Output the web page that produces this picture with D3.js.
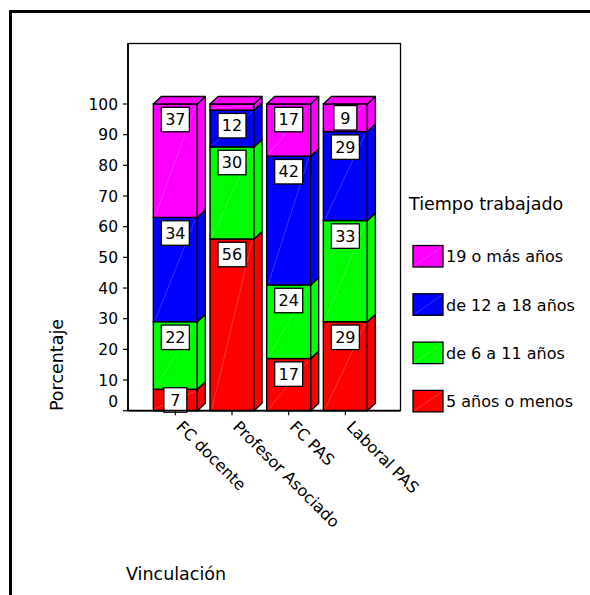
<!DOCTYPE html>
<html>
<head>
<meta charset="utf-8">
<script src="https://cdn.jsdelivr.net/npm/d3@7"></script>
<style>
  html, body { margin: 0; padding: 0; background: #fff; }
  svg { display: block; }
  text { font-family: "DejaVu Sans", sans-serif; fill: #000; }
</style>
</head>
<body>
<svg id="chart" width="590" height="595"></svg>
<script>
// Categories (Vinculación) and stacked series (Tiempo trabajado, %)
const categories = ["FC docente", "Profesor Asociado", "FC PAS", "Laboral PAS"];
const seriesNames = ["5 años o menos", "de 6 a 11 años", "de 12 a 18 años", "19 o más años"];
const seriesColors = ["#ff0000", "#00ff00", "#0000ff", "#ff00ff"];
const cincoOMenos = [7, 56, 17, 29];
const seisAOnce = [22, 30, 24, 33];
const doceADieciocho = [34, 12, 42, 29];
const diecinueveOMas = [37, 2, 17, 9];
const yTicks = [0, 10, 20, 30, 40, 50, 60, 70, 80, 90, 100];
const minLabelValue = 5; // segments smaller than this carry no label

const seriesValues = [cincoOMenos, seisAOnce, doceADieciocho, diecinueveOMas];

const svg = d3.select("#chart");

// outer frame
svg.append("rect")
  .attr("x", 10.5).attr("y", 11.5)
  .attr("width", 700).attr("height", 700)
  .attr("fill", "none").attr("stroke", "#000").attr("stroke-width", 3);

const plot = { left: 128, right: 400.5, top: 43.5, bottom: 410.7 };

const y = d3.scaleLinear().domain([0, 100]).range([plot.bottom, 104]);
const x = d3.scaleBand().domain(categories)
  .range([147, 373.7]).paddingInner(0.2235).paddingOuter(0.1118);

const depthX = 8, depthY = 7.5;

// plot frame
svg.append("rect")
  .attr("x", plot.left).attr("y", plot.top)
  .attr("width", plot.right - plot.left).attr("height", plot.bottom - plot.top)
  .attr("fill", "#fff").attr("stroke", "#000").attr("stroke-width", 1.3);

// stacked data
const rows = categories.map((c, i) => {
  const r = { cat: c };
  seriesNames.forEach((s, k) => r[s] = seriesValues[k][i]);
  return r;
});
const stacked = d3.stack().keys(seriesNames)(rows);

const bars = svg.append("g");
const labels = [];

stacked.forEach((layer, k) => {
  layer.forEach((seg, i) => {
    const cat = categories[i];
    const x0 = x(cat), x1 = x0 + x.bandwidth();
    const yb = y(seg[0]), yt = y(seg[1]);
    const g = bars.append("g");
    const col = seriesColors[k];
    // front face
    g.append("rect").attr("x", x0).attr("y", yt).attr("width", x1 - x0).attr("height", yb - yt)
      .attr("fill", col).attr("stroke", "#000").attr("stroke-width", 1.4);
    g.append("line").attr("x1", x0 + 2).attr("y1", yb - 2).attr("x2", x1 - 2).attr("y2", yt + 2)
      .attr("stroke", "#fff").attr("stroke-opacity", 0.3).attr("stroke-width", 0.7);
    // side face
    g.append("path")
      .attr("d", `M${x1},${yb}L${x1 + depthX},${yb - depthY}L${x1 + depthX},${yt - depthY}L${x1},${yt}Z`)
      .attr("fill", col).attr("stroke", "#000").attr("stroke-width", 1.4).attr("stroke-linejoin", "round");
    // top face for the uppermost segment
    if (k === stacked.length - 1) {
      g.append("path")
        .attr("d", `M${x0},${yt}L${x0 + depthX},${yt - depthY}L${x1 + depthX},${yt - depthY}L${x1},${yt}Z`)
        .attr("fill", col).attr("stroke", "#000").attr("stroke-width", 1.4).attr("stroke-linejoin", "round");
    }
    const v = seriesValues[k][i];
    if (v >= minLabelValue) labels.push({ v, cx: x0 + (x1 - x0) / 2, yt, yb });
  });
});

// value labels in white boxes
labels.forEach(l => {
  const txt = String(l.v);
  const w = txt.length > 1 ? 28 : 23, h = 24.5;
  let top = l.yt + 3.3;
  if (l.yb - l.yt < h + 6) top = (l.yt + l.yb) / 2 - h / 2;
  const g = svg.append("g");
  g.append("rect").attr("x", l.cx - w / 2).attr("y", top).attr("width", w).attr("height", h)
    .attr("fill", "#fff").attr("stroke", "#000").attr("stroke-width", 1.3);
  g.append("text").attr("x", l.cx).attr("y", top + h / 2).attr("dy", "0.36em")
    .attr("text-anchor", "middle").attr("font-size", 16).text(txt);
});

// y axis ticks and labels
const yAxis = svg.append("g");
yTicks.forEach(t => {
  yAxis.append("line").attr("x1", 123).attr("x2", plot.left).attr("y1", y(t)).attr("y2", y(t))
    .attr("stroke", "#000").attr("stroke-width", 1.2);
  yAxis.append("text").attr("x", 118).attr("y", Math.min(y(t), plot.bottom - 9.5)).attr("dy", "0.36em")
    .attr("text-anchor", "end").attr("font-size", 15.5).text(t);
});
svg.append("line").attr("x1", plot.left).attr("x2", plot.left).attr("y1", plot.top).attr("y2", plot.bottom)
  .attr("stroke", "#000").attr("stroke-width", 1.8);
svg.append("line").attr("x1", plot.left).attr("x2", plot.right).attr("y1", plot.bottom).attr("y2", plot.bottom)
  .attr("stroke", "#000").attr("stroke-width", 1.8);

// x axis ticks and rotated labels
categories.forEach(c => {
  const cx = x(c) + x.bandwidth() / 2;
  svg.append("line").attr("x1", cx).attr("x2", cx).attr("y1", plot.bottom).attr("y2", plot.bottom + 4.5)
    .attr("stroke", "#000").attr("stroke-width", 1.2);
  svg.append("text").attr("transform", `translate(${cx + 4},${plot.bottom + 13}) rotate(45)`)
    .attr("text-anchor", "start").attr("dy", "0.35em").attr("font-size", 16).text(c);
});

// axis titles
svg.append("text").attr("transform", "translate(63,365) rotate(-90)")
  .attr("text-anchor", "middle").attr("font-size", 17.5).text("Porcentaje");
svg.append("text").attr("x", 126).attr("y", 580).attr("font-size", 17.5).text("Vinculación");

// legend
svg.append("text").attr("x", 409).attr("y", 210).attr("font-size", 17.5).text("Tiempo trabajado");
const legendOrder = d3.range(seriesNames.length).reverse();
legendOrder.forEach((k, j) => {
  const ty = 245.5 + j * 48.3;
  svg.append("rect").attr("x", 413).attr("y", ty).attr("width", 30).attr("height", 21.5)
    .attr("fill", seriesColors[k]).attr("stroke", "#000").attr("stroke-width", 1.3);
  svg.append("line").attr("x1", 415).attr("y1", ty + 20).attr("x2", 441).attr("y2", ty + 2)
    .attr("stroke", "#fff").attr("stroke-opacity", 0.3).attr("stroke-width", 0.7);
  svg.append("text").attr("x", 446).attr("y", ty + 11).attr("dy", "0.36em")
    .attr("font-size", 16).text(seriesNames[k]);
});
</script>
</body>
</html>
